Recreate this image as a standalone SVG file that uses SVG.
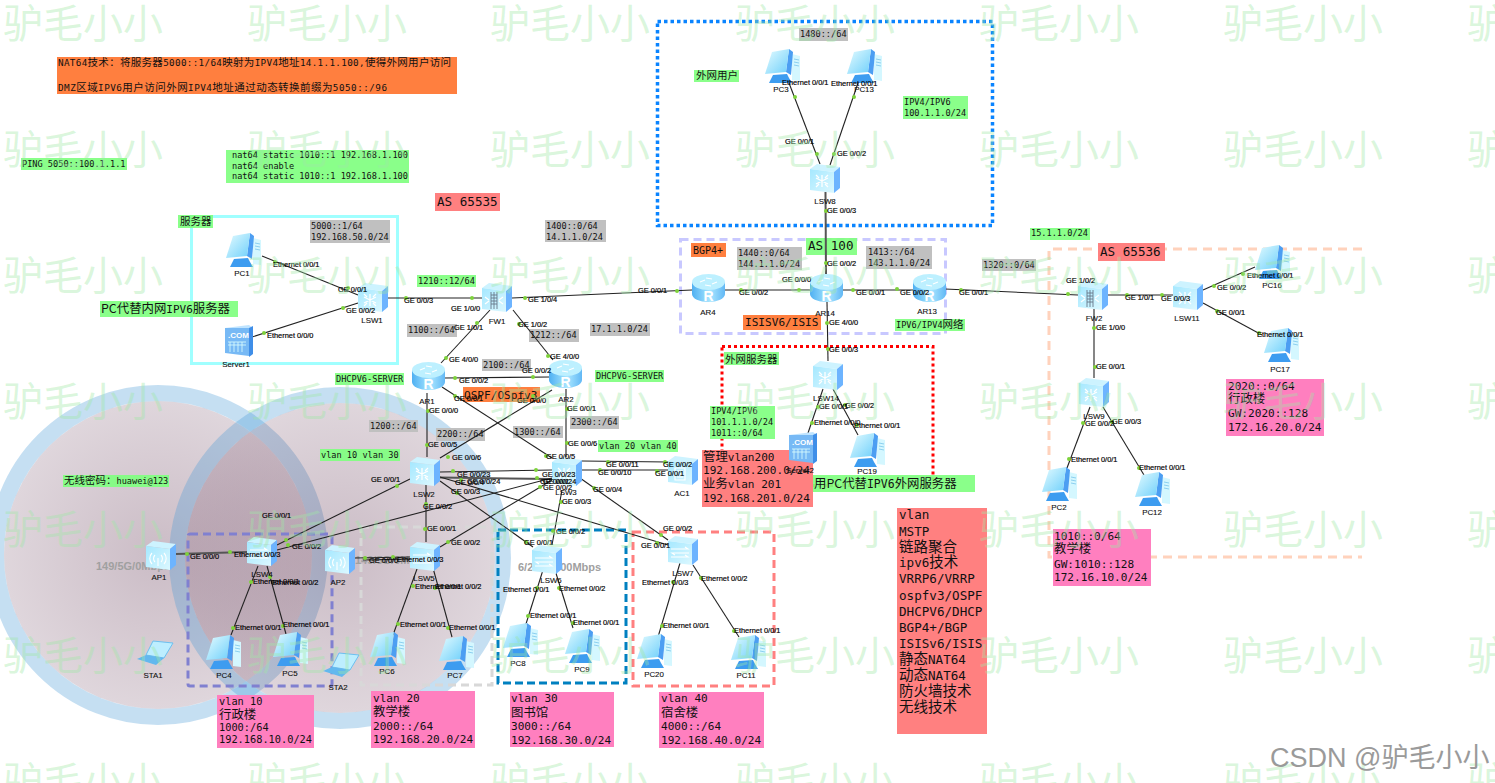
<svg xmlns="http://www.w3.org/2000/svg" width="1495" height="783" viewBox="0 0 1495 783">
<style>
text{font-family:"DejaVu Sans Mono","Noto Sans CJK SC",monospace;fill:#111}
.m{font-size:8.6px}.l{font-size:11.1px}.xl{font-size:12.6px}
.z{font-size:10.5px;font-family:"Noto Sans CJK SC",sans-serif}
.zl{font-size:12.4px;font-family:"Noto Sans CJK SC",sans-serif}
.p{font:7.4px "Liberation Sans",sans-serif;fill:#000;stroke:#000;stroke-width:.18}
.n{font:7.9px "Liberation Sans",sans-serif;fill:#111;text-anchor:middle;stroke:#111;stroke-width:.12}
.g{font:bold 11px "Liberation Sans",sans-serif;fill:#a0a0a0}
.wm{font:40px "Noto Sans CJK SC",sans-serif;fill:#9fe8a6;fill-opacity:.4}
.grn{fill:#80ff80;fill-opacity:.92}.gry{fill:#c0c0c0}.org{fill:#ff7f3f}.red{fill:#ff8080}.pnk{fill:#ff7fbf}
.c line,.c polyline{stroke:#222;stroke-width:1.1;fill:none}
.c .t{stroke-width:2;stroke:#555}
.c circle{fill:#7ed23c}
.r{fill:none}
.t14{font-size:14.5px;font-family:"Noto Sans CJK SC",sans-serif}
</style>
<defs>
<radialGradient id="rose"><stop offset="0" stop-color="#6e4560" stop-opacity=".36"/><stop offset="1" stop-color="#6e4560" stop-opacity=".22"/></radialGradient>
<linearGradient id="fr" x1="0" y1="0" x2="1" y2="1"><stop offset="0" stop-color="#a5e8ff"/><stop offset="1" stop-color="#dcf8ff"/></linearGradient>
<linearGradient id="rb" x1="0" y1="0" x2="1" y2="0"><stop offset="0" stop-color="#4fb0f2"/><stop offset=".55" stop-color="#a8e6ff"/><stop offset="1" stop-color="#62b8f5"/></linearGradient>
<linearGradient id="sc" x1="0" y1="0" x2="1" y2="1"><stop offset="0" stop-color="#e6fcff"/><stop offset="1" stop-color="#6fd0fb"/></linearGradient>
<g id="box"><polygon points="0,5 7,0 30,3 24,8" fill="#cdf3ff"/><polygon points="0,5 24,8 24,29 0,26" fill="url(#fr)"/><polygon points="24,8 30,3 30,24 24,29" fill="#6db4ff"/></g>
<g id="sw3"><use href="#box"/><path d="M12 11v12M6 14l12 6M18 14l-12 6M6 11l3 3M18 11l-3 3M6 23l3-3M18 23l-3-3" stroke="#fff" stroke-width="1.3" fill="none"/></g>
<g id="sw2"><use href="#box"/><path d="M3 13h17l-3-2M21 17H4l3 2M3 21h17l-3-2" stroke="#fff" stroke-width="1.1" fill="none"/></g>
<g id="fw"><use href="#box"/><path d="M9 9v17M15 9v17M9 12h6M9 15h6M9 18h6M9 21h6M12 9v17" stroke="#678" stroke-width=".9" fill="none"/><path d="M3 14l4 3M3 21l4-3M21 14l-4 3M21 21l-4-3" stroke="#fff" stroke-width="1.2"/></g>
<g id="ap"><use href="#box"/><path d="M9 14a5 5 0 0 0 0 7M15 14a5 5 0 0 1 0 7M6 12a8 8 0 0 0 0 11M18 12a8 8 0 0 1 0 11M12 17v8" stroke="#fff" stroke-width="1.1" fill="none"/></g>
<g id="ac"><use href="#box"/><path d="M7 12h10v12H7zM9 15h6M9 18h6M9 21h6" stroke="#fff" stroke-width="1.2" fill="none"/></g>
<g id="ar"><path d="M0 8V20A16.5 8 0 0 0 33 20V8Z" fill="url(#rb)"/><ellipse cx="16.5" cy="8" rx="16.5" ry="8" fill="#bdf0ff"/><path d="M8 8l5-2M14 4l6 1M25 8l-5 2M19 12l-6-1" stroke="#fff" stroke-width="1.2"/><text x="16.5" y="27" text-anchor="middle" style="font:bold 14px 'Liberation Sans',sans-serif;fill:#fff">R</text></g>
<g id="pc"><polygon points="27,5 35,7 35,32 27,31" fill="#d4f7ff"/><path d="M29 10l5 1M29 13l5 1M29 16l5 1" stroke="#8cd0f0"/><polygon points="24,0 28,3 26,26 21,23" fill="#4c9ef2"/><polygon points="7,3 24,0 21,23 0,25" fill="url(#sc)"/><polygon points="8,26 22,25 24,29 27,34 4,34" fill="#3d9cf0"/></g>
<g id="srv"><polygon points="0,3 24,0 28,3 5,6" fill="#bfe4ff"/><polygon points="0,3 24,3 24,31 0,28" fill="#77b9f5"/><polygon points="24,3 28,1 28,29 24,32" fill="#3f8ee8"/><text x="3" y="13" style="font:bold 8px 'Liberation Sans',sans-serif;fill:#fff">.COM</text><path d="M3 17h18M3 20h18M5 17v10M9 17v10M13 17v10M17 17v10" stroke="#dff" stroke-width=".8"/></g>
<g id="sta"><polygon points="16,0 36,2 27,17 9,14" fill="#bdeeff" stroke="#6cc0f0"/><polygon points="0,18 9,14 27,17 19,24" fill="#63b8ee"/></g>
</defs>

<g id="areas">
<circle cx="158" cy="555" r="154" fill="url(#rose)"/><circle cx="158" cy="555" r="162" fill="none" stroke="#4a9ad8" stroke-opacity=".32" stroke-width="16"/>
<circle cx="340" cy="558" r="155" fill="url(#rose)"/><circle cx="340" cy="558" r="163" fill="none" stroke="#4a9ad8" stroke-opacity=".32" stroke-width="16"/>
<rect class="r" x="191.500" y="216.500" width="206" height="147" stroke="#a0ffff" stroke-width="3"/>
<rect class="r" x="657.500" y="21.500" width="335" height="204" stroke="#0a84ff" stroke-width="3.5" stroke-dasharray="3.500 3"/>
<rect class="r" x="680.500" y="239.500" width="265" height="94" stroke="#c8c8ff" stroke-width="3" stroke-dasharray="8 5"/>
<path class="r" d="M1362 249H1049V557H1362" stroke="#ffd2bc" stroke-width="3" stroke-dasharray="9 6"/>
<rect class="r" x="722" y="346.500" width="211" height="139" stroke="#f00" stroke-width="3" stroke-dasharray="3 3"/>
<rect class="r" x="188" y="534" width="144" height="152" rx="2" stroke="#8080d0" stroke-width="3" stroke-dasharray="8 5"/>
<rect class="r" x="361" y="527" width="131" height="158" stroke="#d8d8d8" stroke-width="3" stroke-dasharray="8 5"/>
<rect class="r" x="498" y="530" width="128" height="153" stroke="#0080c0" stroke-width="3" stroke-dasharray="8 4"/>
<rect class="r" x="633" y="532" width="141" height="154" stroke="#ff8080" stroke-width="3" stroke-dasharray="8 5"/>
</g>

<g id="notes">
<rect class="org" x="57" y="57" width="400" height="37"/>
<text x="58" y="66" textLength="393" style="font-size:9.300px">NAT64<tspan class="z">技术：将服务器</tspan>5000::1/64<tspan class="z">映射为</tspan>IPV4<tspan class="z">地址</tspan>14.1.1.100,<tspan class="z">使得外网用户访问</tspan></text>
<text x="58" y="91" textLength="329" style="font-size:9.300px">DMZ<tspan class="z">区域</tspan>IPV6<tspan class="z">用户访问外网</tspan>IPV4<tspan class="z">地址通过动态转换前缀为</tspan>5050::/96</text>
<rect class="grn" x="21" y="158" width="106" height="12"/><text class="m" x="22" y="167">PING 5050::100.1.1.1</text>
<rect class="grn" x="226" y="150" width="183" height="33"/><text class="m" x="232" y="158">nat64 static 1010::1 192.168.1.100</text><text class="m" x="232" y="169">nat64 enable</text><text class="m" x="232" y="179">nat64 static 1010::1 192.168.1.100</text>
<rect class="red" x="435" y="193" width="65" height="18"/><text class="xl" x="437" y="206">AS 65535</text>
<rect class="grn" x="178" y="215" width="35" height="13"/><text class="z" x="180" y="225">服务器</text>
<rect class="gry" x="310" y="220" width="80" height="23"/><text class="m" x="311" y="229">5000::1/64</text><text class="m" x="311" y="240">192.168.50.0/24</text>
<rect class="gry" x="545" y="220" width="61" height="22"/><text class="m" x="546" y="229">1400::0/64</text><text class="m" x="546" y="240">14.1.1.0/24</text>
<rect class="grn" x="417" y="275" width="59" height="12"/><text class="m" x="418" y="284">1210::12/64</text>
<rect class="grn" x="100" y="301" width="138" height="16"/><text x="101" y="313" style="font-size:11px"><tspan class="zl">PC代替内网</tspan>IPV6<tspan class="zl">服务器</tspan></text>
<rect class="gry" x="407" y="324" width="50" height="13"/><text class="m" x="408" y="333">1100::/64</text>
<rect class="gry" x="529" y="329" width="50" height="13"/><text class="m" x="530" y="338">1212::/64</text>
<rect class="gry" x="590" y="323" width="60" height="13"/><text class="m" x="591" y="332">17.1.1.0/24</text>
<rect class="gry" x="482" y="359" width="49" height="12"/><text class="m" x="483" y="368">2100::/64</text>
<rect class="grn" x="335" y="373" width="69" height="12"/><text class="m" x="336" y="382">DHCPV6-SERVER</text>
<rect class="grn" x="595" y="370" width="69" height="12"/><text class="m" x="596" y="379">DHCPV6-SERVER</text>
<rect class="org" x="463" y="387" width="77" height="15"/><text class="l" x="464" y="399">OSPF/OSpfv3</text>
<rect class="gry" x="369" y="420" width="49" height="12"/><text class="m" x="370" y="429">1200::/64</text>
<rect class="gry" x="436" y="428" width="49" height="13"/><text class="m" x="437" y="437">2200::/64</text>
<rect class="gry" x="513" y="426" width="50" height="12"/><text class="m" x="514" y="435">1300::/64</text>
<rect class="gry" x="570" y="416" width="49" height="13"/><text class="m" x="571" y="425">2300::/64</text>
<rect class="grn" x="598" y="440" width="80" height="12"/><text class="m" x="599" y="449">vlan 20 vlan 40</text>
<rect class="grn" x="320" y="449" width="80" height="12"/><text class="m" x="321" y="458">vlan 10 vlan 30</text>
<rect class="grn" x="63" y="475" width="106" height="12"/><text class="m" x="64" y="484"><tspan class="z">无线密码：</tspan>huawei@123</text>
<rect class="grn" x="694" y="70" width="45" height="12"/><text class="z" x="696" y="79">外网用户</text>
<rect class="gry" x="799" y="28" width="49" height="13"/><text class="m" x="800" y="37">1480::/64</text>
<rect class="grn" x="903" y="96" width="65" height="23"/><text class="m" x="904" y="105">IPV4/IPV6</text><text class="m" x="904" y="116">100.1.1.0/24</text>
<rect class="org" x="691" y="243" width="35" height="14"/><text style="font-size:10px" x="693" y="254">BGP4+</text>
<rect class="gry" x="737" y="247" width="65" height="23"/><text class="m" x="738" y="256">1440::0/64</text><text class="m" x="738" y="267">144.1.1.0/24</text>
<rect class="grn" x="806" y="238" width="51" height="17"/><text class="xl" x="808" y="250">AS 100</text>
<rect class="gry" x="866" y="246" width="66" height="23"/><text class="m" x="868" y="255">1413::/64</text><text class="m" x="868" y="266">143.1.1.0/24</text>
<rect class="org" x="743" y="315" width="78" height="15"/><text class="l" x="745" y="326">ISISV6/ISIS</text>
<rect class="grn" x="895" y="319" width="70" height="12"/><text class="m" x="896" y="328">IPV6/IPV4<tspan class="z">网络</tspan></text>
<rect class="grn" x="724" y="352" width="55" height="13"/><text class="z" x="725" y="363">外网服务器</text>
<rect class="grn" x="710" y="406" width="65" height="33"/><text class="m" x="711" y="414">IPV4/IPV6</text><text class="m" x="711" y="425">101.1.1.0/24</text><text class="m" x="711" y="436">1011::0/64</text>
<rect class="red" x="702" y="450" width="111" height="57"/>
<text class="l" x="703" y="461"><tspan class="zl">管理</tspan>vlan200</text><text class="l" x="703" y="474">192.168.200.0/24</text><text class="l" x="703" y="488"><tspan class="zl">业务</tspan>vlan 201</text><text class="l" x="703" y="502">192.168.201.0/24</text>
<rect class="grn" x="813" y="475" width="162" height="17"/><text x="814" y="488" style="font-size:11.500px"><tspan class="zl">用PC代替</tspan>IPV6<tspan class="zl">外网服务器</tspan></text>
<rect class="gry" x="982" y="259" width="54" height="12"/><text class="m" x="983" y="268">1320::0/64</text>
<rect class="grn" x="1030" y="228" width="60" height="12"/><text class="m" x="1031" y="236">15.1.1.0/24</text>
<rect class="red" x="1098" y="243" width="67" height="18"/><text class="xl" x="1100" y="256">AS 65536</text>
<rect class="pnk" x="1226" y="379" width="98" height="57"/><text class="l" x="1228" y="390">2020::0/64</text><text class="zl" x="1228" y="403">行政楼</text><text class="l" x="1228" y="417">GW:2020::128</text><text class="l" x="1228" y="431">172.16.20.0/24</text>
<rect class="pnk" x="1053" y="529" width="98" height="57"/><text class="l" x="1054" y="540">1010::0/64</text><text class="zl" x="1054" y="553">教学楼</text><text class="l" x="1054" y="568">GW:1010::128</text><text class="l" x="1054" y="581">172.16.10.0/24</text>
<rect class="pnk" x="217" y="695" width="97" height="53"/><text x="219" y="705" style="font-size:10.300px">vlan 10</text><text class="zl" x="219" y="719">行政楼</text><text x="219" y="731" style="font-size:10.300px">1000:/64</text><text x="219" y="743" style="font-size:10.300px">192.168.10.0/24</text>
<rect class="pnk" x="371" y="691" width="104" height="57"/><text class="l" x="373" y="702">vlan 20</text><text class="zl" x="373" y="716">教学楼</text><text class="l" x="373" y="730">2000::/64</text><text class="l" x="373" y="743">192.168.20.0/24</text>
<rect class="pnk" x="510" y="692" width="104" height="55"/><text class="l" x="511" y="702">vlan 30</text><text class="zl" x="511" y="717">图书馆</text><text class="l" x="511" y="730">3000::/64</text><text class="l" x="511" y="744">192.168.30.0/24</text>
<rect class="pnk" x="659" y="692" width="105" height="56"/><text class="l" x="661" y="702">vlan 40</text><text class="zl" x="661" y="717">宿舍楼</text><text class="l" x="661" y="730">4000::/64</text><text class="l" x="661" y="744">192.168.40.0/24</text>
<rect class="red" x="897" y="508" width="90" height="226"/>
<g style="font-size:12.600px"><text x="899" y="519">vlan</text><text x="899" y="536">MSTP</text><text x="899" y="552" class="t14">链路聚合</text><text x="899" y="567">ipv6<tspan class="t14">技术</tspan></text><text x="899" y="583">VRRP6/VRRP</text><text x="899" y="600">ospfv3/OSPF</text><text x="899" y="616">DHCPV6/DHCP</text><text x="899" y="632">BGP4+/BGP</text><text x="899" y="648">ISISv6/ISIS</text><text x="899" y="664"><tspan class="t14">静态</tspan>NAT64</text><text x="899" y="680"><tspan class="t14">动态</tspan>NAT64</text><text x="899" y="696" class="t14">防火墙技术</text><text x="899" y="712" class="t14">无线技术</text></g>
<text class="g" x="96" y="570">149/5G/0Mbps</text><text class="g" x="355" y="564">149/5G/0Mbps</text><text class="g" x="518" y="571">6/2.4G/300Mbps</text>
</g>

<g id="connectors" class="c">
<line x1="262" y1="256" x2="358" y2="295"/><line x1="252" y1="337" x2="358" y2="303"/><line x1="387" y1="298" x2="482" y2="298"/><line x1="512" y1="298" x2="692" y2="290"/>
<line x1="490" y1="310" x2="441" y2="363"/><line x1="513" y1="310" x2="553" y2="360"/><line x1="444" y1="378" x2="550" y2="377"/><line x1="442" y1="387" x2="552" y2="458"/><line x1="552" y1="390" x2="440" y2="458"/>
<line x1="427" y1="393" x2="427" y2="457"/><line x1="566" y1="389" x2="566" y2="457"/><line x1="440" y1="472" x2="552" y2="470"/><line class="t" x1="440" y1="477.500" x2="552" y2="479"/><line x1="426" y1="485" x2="426" y2="542"/><line x1="410" y1="479" x2="277" y2="545"/><line x1="552" y1="478" x2="277" y2="550"/><line x1="440" y1="547" x2="552" y2="480"/><line x1="440" y1="481" x2="533" y2="547"/><line x1="440" y1="477" x2="668" y2="545"/><line x1="580" y1="478" x2="668" y2="540"/><line x1="562" y1="490" x2="552" y2="545"/>
<line x1="582" y1="461" x2="668" y2="462"/><line x1="582" y1="470" x2="668" y2="470"/>
<line class="t" x1="176" y1="554" x2="247" y2="552"/><line x1="355" y1="558" x2="410" y2="557"/><line x1="363" y1="560" x2="410" y2="559"/>
<line x1="258" y1="566" x2="231" y2="635"/><line x1="267" y1="566" x2="286" y2="634"/><line x1="417" y1="569" x2="393" y2="635"/><line x1="433" y1="568" x2="452" y2="637"/><line x1="543" y1="570" x2="525" y2="627"/><line x1="555" y1="570" x2="573" y2="628"/><line x1="680" y1="563" x2="658" y2="637"/><line x1="693" y1="565" x2="739" y2="637"/>
<line x1="789" y1="83" x2="820" y2="164"/><line x1="858" y1="83" x2="830" y2="165"/><line class="t" x1="825.500" y1="192" x2="826" y2="274"/><line x1="725" y1="290" x2="810" y2="290"/><line x1="843" y1="290" x2="913" y2="290"/><line x1="945" y1="289" x2="1078" y2="295"/><line x1="827" y1="302" x2="828" y2="361"/><line x1="823" y1="389" x2="808" y2="433"/><line x1="833" y1="389" x2="858" y2="435"/>
<line x1="1108" y1="295" x2="1173" y2="295"/><line x1="1203" y1="290" x2="1255" y2="267"/><line x1="1203" y1="303" x2="1262" y2="335"/><line x1="1094" y1="309" x2="1094" y2="378"/><line x1="1090" y1="407" x2="1067" y2="468"/><line x1="1103" y1="407" x2="1144" y2="475"/>
<g>
<circle r="2" cx="275" cy="262"/><circle r="2" cx="348" cy="288"/><circle r="2" cx="343" cy="308"/><circle r="2" cx="264" cy="333"/><circle r="2" cx="406" cy="298"/><circle r="2" cx="472" cy="298"/><circle r="2" cx="525" cy="298"/><circle r="2" cx="677" cy="291"/><circle r="2" cx="477" cy="323"/><circle r="2" cx="519" cy="324"/><circle r="2" cx="446" cy="358"/><circle r="2" cx="548" cy="356"/><circle r="2" cx="455" cy="378"/><circle r="2" cx="533" cy="377"/><circle r="2" cx="455" cy="396"/><circle r="2" cx="533" cy="396"/><circle r="2" cx="428" cy="411"/><circle r="2" cx="567" cy="409"/>
<circle r="2" cx="427" cy="445"/><circle r="2" cx="448" cy="457"/><circle r="2" cx="397" cy="486"/><circle r="2" cx="453" cy="471"/><circle r="2" cx="461" cy="480"/><circle r="2" cx="457" cy="493"/><circle r="2" cx="426" cy="504"/><circle r="2" cx="425" cy="529"/><circle r="2" cx="448" cy="542"/><circle r="2" cx="365" cy="558"/><circle r="2" cx="393" cy="557"/><circle r="2" cx="526" cy="542"/><circle r="2" cx="553" cy="531"/><circle r="2" cx="561" cy="502"/><circle r="2" cx="594" cy="488"/><circle r="2" cx="546" cy="456"/><circle r="2" cx="567" cy="443"/><circle r="2" cx="608" cy="462"/><circle r="2" cx="600" cy="470"/><circle r="2" cx="665" cy="462"/><circle r="2" cx="657" cy="471"/><circle r="2" cx="536" cy="470"/><circle r="2" cx="537" cy="478"/><circle r="2" cx="540" cy="487"/><circle r="2" cx="661" cy="535"/><circle r="2" cx="657" cy="543"/>
<circle r="2" cx="286" cy="540"/><circle r="2" cx="288" cy="545"/><circle r="2" cx="187" cy="554"/><circle r="2" cx="230" cy="552"/><circle r="2" cx="251" cy="582"/><circle r="2" cx="270" cy="577"/><circle r="2" cx="233" cy="628"/><circle r="2" cx="283" cy="626"/><circle r="2" cx="413" cy="586"/><circle r="2" cx="435" cy="588"/><circle r="2" cx="398" cy="624"/><circle r="2" cx="448" cy="628"/>
<circle r="2" cx="537" cy="588"/><circle r="2" cx="559" cy="588"/><circle r="2" cx="528" cy="616"/><circle r="2" cx="573" cy="623"/><circle r="2" cx="673" cy="582"/><circle r="2" cx="701" cy="578"/><circle r="2" cx="662" cy="626"/><circle r="2" cx="734" cy="631"/>
<circle r="2" cx="795" cy="97"/><circle r="2" cx="854" cy="97"/><circle r="2" cx="817" cy="154"/><circle r="2" cx="834" cy="154"/><circle r="2" cx="826" cy="211"/><circle r="2" cx="826" cy="263"/><circle r="2" cx="741" cy="290"/><circle r="2" cx="799" cy="290"/><circle r="2" cx="853" cy="290"/><circle r="2" cx="897" cy="289"/><circle r="2" cx="961" cy="290"/><circle r="2" cx="827" cy="323"/><circle r="2" cx="828" cy="349"/><circle r="2" cx="818" cy="407"/><circle r="2" cx="845" cy="405"/><circle r="2" cx="812" cy="423"/><circle r="2" cx="857" cy="425"/>
<circle r="2" cx="1068" cy="294"/><circle r="2" cx="1127" cy="295"/><circle r="2" cx="1162" cy="295"/><circle r="2" cx="1214" cy="286"/><circle r="2" cx="1243" cy="274"/><circle r="2" cx="1217" cy="311"/><circle r="2" cx="1259" cy="333"/><circle r="2" cx="1094" cy="328"/><circle r="2" cx="1095" cy="367"/><circle r="2" cx="1083" cy="423"/><circle r="2" cx="1112" cy="422"/><circle r="2" cx="1069" cy="459"/><circle r="2" cx="1139" cy="468"/>
</g>
</g>

<g id="PC1"><use href="#pc" x="226" y="233"/><text class="n" x="242" y="276">PC1</text></g>
<g id="LSW1"><use href="#sw3" x="358" y="283"/><text class="n" x="372" y="323">LSW1</text></g>
<g id="Server1"><use href="#srv" x="225" y="325"/><text class="n" x="236" y="367">Server1</text></g>
<g id="FW1"><use href="#fw" x="482" y="283"/><text class="n" x="497" y="324">FW1</text></g>
<g id="AR1"><use href="#ar" x="412" y="362"/><text class="n" x="427" y="404">AR1</text></g>
<g id="AR2"><use href="#ar" x="549" y="360"/><text class="n" x="566" y="402">AR2</text></g>
<g id="LSW2"><use href="#sw3" x="410" y="457"/><text class="n" x="424" y="497">LSW2</text></g>
<g id="LSW3"><use href="#sw3" x="552" y="457"/><text class="n" x="566" y="495">LSW3</text></g>
<g id="AC1"><use href="#ac" x="668" y="456"/><text class="n" x="682" y="496">AC1</text></g>
<g id="LSW5"><use href="#sw2" x="410" y="542"/><text class="n" x="424" y="581">LSW5</text></g>
<g id="AP2"><use href="#ap" x="325" y="545"/><text class="n" x="338" y="585">AP2</text></g>
<g id="LSW6"><use href="#sw2" x="532" y="545"/><text class="n" x="551" y="583">LSW6</text></g>
<g id="LSW7"><use href="#sw2" x="668" y="536"/><text class="n" x="683" y="576">LSW7</text></g>
<g id="LSW4"><use href="#sw2" x="247" y="537"/><text class="n" x="262" y="577">LSW4</text></g>
<g id="AP1"><use href="#ap" x="146" y="541"/><text class="n" x="159" y="580">AP1</text></g>
<g id="STA1"><use href="#sta" x="137" y="641"/><text class="n" x="153" y="678">STA1</text></g>
<g id="PC4"><use href="#pc" x="206" y="635"/><text class="n" x="224" y="678">PC4</text></g>
<g id="PC5"><use href="#pc" x="273" y="632"/><text class="n" x="290" y="676">PC5</text></g>
<g id="STA2"><use href="#sta" x="323" y="653"/><text class="n" x="338" y="690">STA2</text></g>
<g id="PC6"><use href="#pc" x="370" y="632"/><text class="n" x="387" y="674">PC6</text></g>
<g id="PC7"><use href="#pc" x="439" y="636"/><text class="n" x="455" y="678">PC7</text></g>
<g id="PC8"><use href="#pc" x="503" y="623"/><text class="n" x="518" y="666">PC8</text></g>
<g id="PC9"><use href="#pc" x="565" y="629"/><text class="n" x="582" y="672">PC9</text></g>
<g id="PC20"><use href="#pc" x="637" y="634"/><text class="n" x="654" y="677">PC20</text></g>
<g id="PC11"><use href="#pc" x="731" y="635"/><text class="n" x="746" y="678">PC11</text></g>
<g id="PC3"><use href="#pc" x="765" y="49"/><text class="n" x="781" y="92">PC3</text></g>
<g id="PC13"><use href="#pc" x="847" y="49"/><text class="n" x="864" y="92">PC13</text></g>
<g id="LSW8"><use href="#sw3" x="810" y="164"/><text class="n" x="825" y="204">LSW8</text></g>
<g id="AR4"><use href="#ar" x="692" y="274"/><text class="n" x="708" y="315">AR4</text></g>
<g id="AR14"><use href="#ar" x="810" y="274"/><text class="n" x="825" y="316">AR14</text></g>
<g id="AR13"><use href="#ar" x="913" y="274"/><text class="n" x="927" y="314">AR13</text></g>
<g id="LSW14"><use href="#sw3" x="813" y="361"/><text class="n" x="826" y="401">LSW14</text></g>
<g id="Server2"><use href="#srv" x="789" y="432"/><text class="n" x="800" y="473">Server2</text></g>
<g id="PC19"><use href="#pc" x="850" y="433"/><text class="n" x="867" y="474">PC19</text></g>
<g id="FW2"><use href="#fw" x="1078" y="281"/><text class="n" x="1094" y="321">FW2</text></g>
<g id="LSW11"><use href="#sw3" x="1173" y="281"/><text class="n" x="1187" y="321">LSW11</text></g>
<g id="PC16"><use href="#pc" x="1255" y="245"/><text class="n" x="1272" y="288">PC16</text></g>
<g id="PC17"><use href="#pc" x="1264" y="328"/><text class="n" x="1280" y="372">PC17</text></g>
<g id="LSW9"><use href="#sw3" x="1079" y="378"/><text class="n" x="1094" y="419">LSW9</text></g>
<g id="PC2"><use href="#pc" x="1042" y="467"/><text class="n" x="1059" y="510">PC2</text></g>
<g id="PC12"><use href="#pc" x="1135" y="472"/><text class="n" x="1152" y="515">PC12</text></g>

<g id="port-labels">
<text class="p" x="273" y="267">Ethernet 0/0/1</text><text class="p" x="338" y="292">GE 0/0/1</text><text class="p" x="346" y="313">GE 0/0/2</text><text class="p" x="267" y="338">Ethernet 0/0/0</text><text class="p" x="404" y="303">GE 0/0/3</text><text class="p" x="451" y="311">GE 1/0/0</text><text class="p" x="528" y="302">GE 1/0/4</text><text class="p" x="638" y="293">GE 0/0/1</text><text class="p" x="454" y="330">GE 1/0/1</text><text class="p" x="518" y="327">GE 1/0/2</text><text class="p" x="449" y="362">GE 4/0/0</text><text class="p" x="550" y="359">GE 4/0/0</text><text class="p" x="459" y="383">GE 0/0/2</text><text class="p" x="522" y="373">GE 0/0/2</text><text class="p" x="454" y="401">GE 0/0/1</text><text class="p" x="517" y="403">GE 0/0/0</text><text class="p" x="429" y="413">GE 0/0/0</text><text class="p" x="567" y="411">GE 0/0/1</text>
<text class="p" x="428" y="447">GE 0/0/5</text><text class="p" x="452" y="460">GE 0/0/6</text><text class="p" x="371" y="482">GE 0/0/1</text><text class="p" x="457" y="477">GE 0/0/23</text><text class="p" x="455" y="485">GE 0/0/4</text><text class="p" x="467" y="484">GE 0/0/24</text><text class="p" x="451" y="494">GE 0/0/3</text><text class="p" x="423" y="509">GE 0/0/2</text><text class="p" x="427" y="531">GE 0/0/1</text><text class="p" x="451" y="545">GE 0/0/2</text><text class="p" x="369" y="563">GE 0/0/0</text><text class="p" x="397" y="562">Ethernet 0/0/3</text><text class="p" x="524" y="545">GE 0/0/1</text><text class="p" x="556" y="534">GE 0/0/2</text><text class="p" x="562" y="504">GE 0/0/3</text><text class="p" x="593" y="492">GE 0/0/4</text><text class="p" x="546" y="459">GE 0/0/5</text><text class="p" x="568" y="446">GE 0/0/6</text><text class="p" x="606" y="467">GE 0/0/11</text><text class="p" x="598" y="475">GE 0/0/10</text><text class="p" x="663" y="467">GE 0/0/2</text><text class="p" x="655" y="476">GE 0/0/1</text><text class="p" x="542" y="477">GE 0/0/23</text><text class="p" x="543" y="484">GE 0/0/24</text><text class="p" x="540" y="484">GE 0/0/1</text><text class="p" x="543" y="490">GE 0/0/2</text><text class="p" x="663" y="531">GE 0/0/2</text><text class="p" x="641" y="548">GE 0/0/1</text>
<text class="p" x="262" y="518">GE 0/0/1</text><text class="p" x="292" y="549">GE 0/0/2</text><text class="p" x="190" y="559">GE 0/0/0</text><text class="p" x="234" y="557">Ethernet 0/0/3</text><text class="p" x="253" y="584">Ethernet 0/0/1</text><text class="p" x="272" y="585">Ethernet 0/0/2</text><text class="p" x="235" y="630">Ethernet 0/0/1</text><text class="p" x="283" y="627">Ethernet 0/0/1</text><text class="p" x="415" y="589">Ethernet 0/0/1</text><text class="p" x="435" y="589">Ethernet 0/0/2</text><text class="p" x="400" y="627">Ethernet 0/0/1</text><text class="p" x="449" y="630">Ethernet 0/0/1</text>
<text class="p" x="503" y="592">Ethernet 0/0/1</text><text class="p" x="559" y="591">Ethernet 0/0/2</text><text class="p" x="530" y="618">Ethernet 0/0/1</text><text class="p" x="573" y="625">Ethernet 0/0/1</text><text class="p" x="642" y="585">Ethernet 0/0/3</text><text class="p" x="701" y="581">Ethernet 0/0/2</text><text class="p" x="663" y="628">Ethernet 0/0/1</text><text class="p" x="734" y="633">Ethernet 0/0/1</text>
<text class="p" x="782" y="85">Ethernet 0/0/1</text><text class="p" x="831" y="86">Ethernet 0/0/1</text><text class="p" x="785" y="144">GE 0/0/1</text><text class="p" x="837" y="156">GE 0/0/2</text><text class="p" x="827" y="213">GE 0/0/3</text><text class="p" x="827" y="266">GE 0/0/2</text><text class="p" x="739" y="295">GE 0/0/2</text><text class="p" x="782" y="282">GE 0/0/0</text><text class="p" x="856" y="295">GE 0/0/1</text><text class="p" x="900" y="295">GE 0/0/2</text><text class="p" x="959" y="295">GE 0/0/1</text><text class="p" x="829" y="325">GE 4/0/0</text><text class="p" x="829" y="352">GE 0/0/3</text><text class="p" x="819" y="409">GE 0/0/1</text><text class="p" x="845" y="408">GE 0/0/2</text><text class="p" x="814" y="425">Ethernet 0/0/0</text><text class="p" x="854" y="428">Ethernet 0/0/1</text>
<text class="p" x="1066" y="283">GE 1/0/2</text><text class="p" x="1125" y="300">GE 1/0/1</text><text class="p" x="1161" y="301">GE 0/0/3</text><text class="p" x="1217" y="290">GE 0/0/2</text><text class="p" x="1247" y="278">Ethernet 0/0/1</text><text class="p" x="1216" y="315">GE 0/0/1</text><text class="p" x="1257" y="337">Ethernet 0/0/1</text><text class="p" x="1096" y="330">GE 1/0/0</text><text class="p" x="1096" y="369">GE 0/0/1</text><text class="p" x="1085" y="426">GE 0/0/2</text><text class="p" x="1112" y="424">GE 0/0/3</text><text class="p" x="1071" y="462">Ethernet 0/0/1</text><text class="p" x="1139" y="470">Ethernet 0/0/1</text>
</g>

<g id="watermark">
<text class="wm" x="3" y="38">驴毛小小</text><text class="wm" x="247" y="38">驴毛小小</text><text class="wm" x="490" y="38">驴毛小小</text><text class="wm" x="735" y="38">驴毛小小</text><text class="wm" x="979" y="38">驴毛小小</text><text class="wm" x="1223" y="38">驴毛小小</text><text class="wm" x="1467" y="38">驴毛小小</text>
<text class="wm" x="3" y="164">驴毛小小</text><text class="wm" x="247" y="164">驴毛小小</text><text class="wm" x="490" y="164">驴毛小小</text><text class="wm" x="735" y="164">驴毛小小</text><text class="wm" x="979" y="164">驴毛小小</text><text class="wm" x="1223" y="164">驴毛小小</text><text class="wm" x="1467" y="164">驴毛小小</text>
<text class="wm" x="3" y="290">驴毛小小</text><text class="wm" x="247" y="290">驴毛小小</text><text class="wm" x="490" y="290">驴毛小小</text><text class="wm" x="735" y="290">驴毛小小</text><text class="wm" x="979" y="290">驴毛小小</text><text class="wm" x="1223" y="290">驴毛小小</text><text class="wm" x="1467" y="290">驴毛小小</text>
<text class="wm" x="3" y="416">驴毛小小</text><text class="wm" x="247" y="416">驴毛小小</text><text class="wm" x="490" y="416">驴毛小小</text><text class="wm" x="735" y="416">驴毛小小</text><text class="wm" x="979" y="416">驴毛小小</text><text class="wm" x="1223" y="416">驴毛小小</text><text class="wm" x="1467" y="416">驴毛小小</text>
<text class="wm" x="3" y="544">驴毛小小</text><text class="wm" x="247" y="544">驴毛小小</text><text class="wm" x="490" y="544">驴毛小小</text><text class="wm" x="735" y="544">驴毛小小</text><text class="wm" x="979" y="544">驴毛小小</text><text class="wm" x="1223" y="544">驴毛小小</text><text class="wm" x="1467" y="544">驴毛小小</text>
<text class="wm" x="3" y="670">驴毛小小</text><text class="wm" x="247" y="670">驴毛小小</text><text class="wm" x="490" y="670">驴毛小小</text><text class="wm" x="735" y="670">驴毛小小</text><text class="wm" x="979" y="670">驴毛小小</text><text class="wm" x="1223" y="670">驴毛小小</text><text class="wm" x="1467" y="670">驴毛小小</text>
<text class="wm" x="3" y="796">驴毛小小</text><text class="wm" x="247" y="796">驴毛小小</text><text class="wm" x="490" y="796">驴毛小小</text><text class="wm" x="735" y="796">驴毛小小</text><text class="wm" x="979" y="796">驴毛小小</text><text class="wm" x="1223" y="796">驴毛小小</text><text class="wm" x="1467" y="796">驴毛小小</text>
<text x="1270" y="767" style="font:27px 'Liberation Sans','Noto Sans CJK SC',sans-serif;fill:#9a9a9a">CSDN @驴毛小小</text>
</g>
</svg>
